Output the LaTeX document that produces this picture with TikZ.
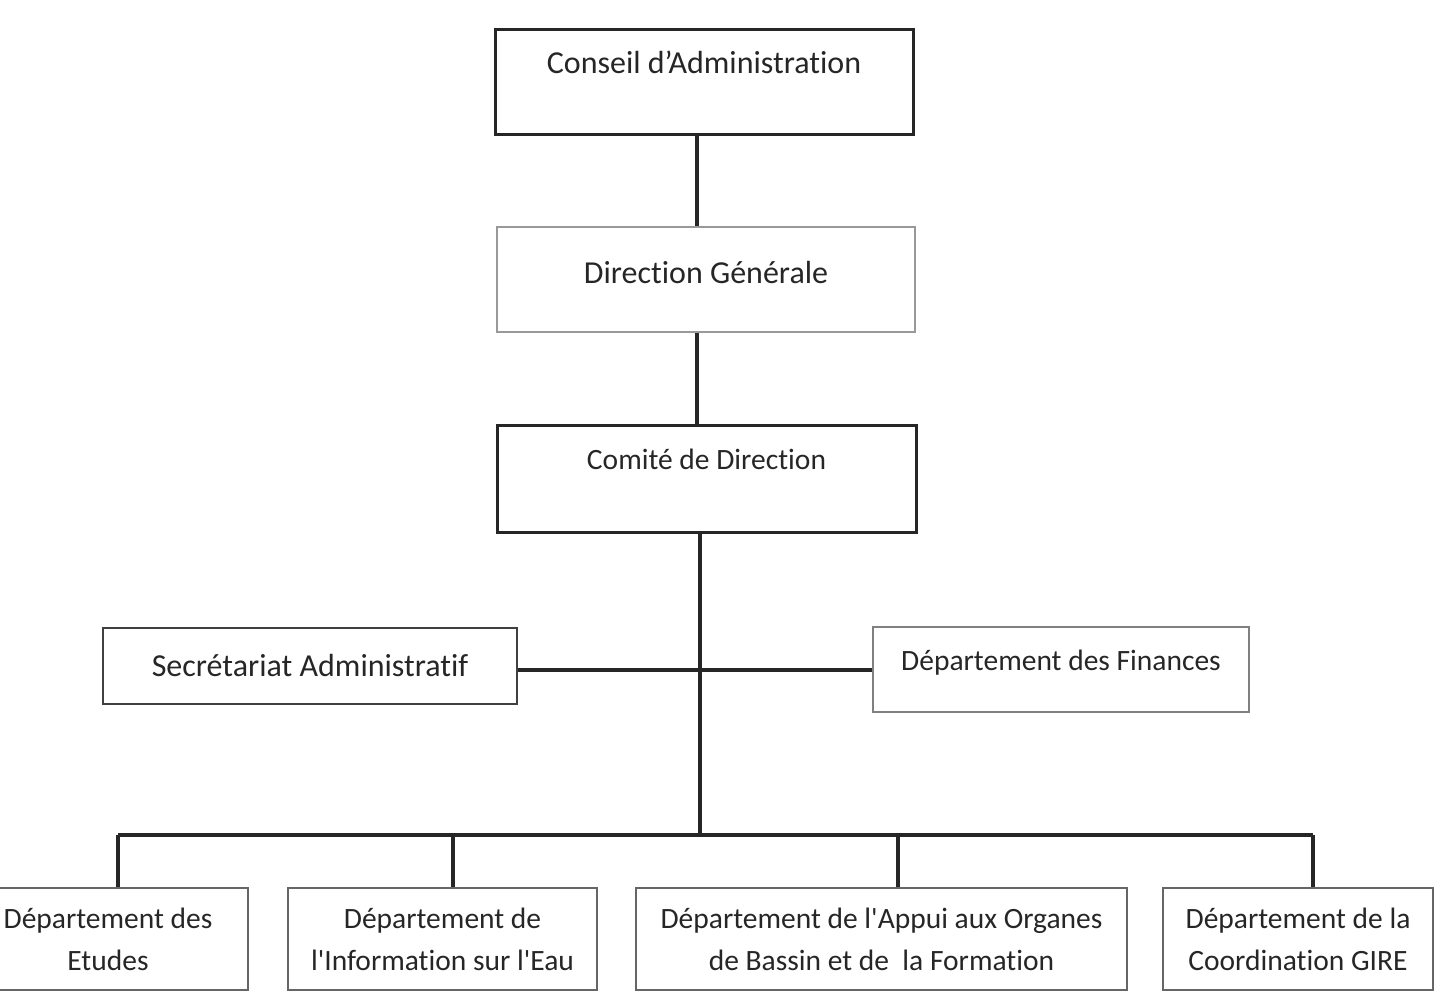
\documentclass[tikz,border=0pt]{standalone}
\usepackage{fontspec}
\setmainfont{Carlito}[Ligatures=NoCommon]
\begin{document}
\begin{tikzpicture}[x=1pt,y=-1pt]
            \tikzstyle{every node}+=[inner sep=0pt]
            \tikzstyle{unit}=[draw=black!60, line width=2pt, align=center, text=black!85, font=\fontsize{29.5}{42}\selectfont]
            \tikzstyle{big}=[font=\fontsize{32}{42}\selectfont]
            \tikzstyle{head}=[unit, draw=black!85, line width=3pt]
            \tikzstyle{link}=[draw=black!85, line width=4pt]
            \useasboundingbox (0,0) rectangle (1445,995);
            \clip (0,0) rectangle (1445,995);
            % top of the chart
            \node [head, big, minimum width=418pt, text height=44pt, text depth=61pt, anchor=base] (ca) at (704,74) {Conseil d’Administration};
            \node [unit, big, draw=black!40, minimum width=418pt, text height=56pt, text depth=49pt, anchor=base] (dg) at (706,283) {Direction Générale};
            \node [head, minimum width=419pt, text height=44pt, text depth=63pt, anchor=base] (cd) at (706.5,469) {Comité de Direction};
            % staff units
            \node [unit, big, draw=black!75, line width=2.5pt, minimum width=414pt, minimum height=76pt] (sa) at (310,666) {Secrétariat Administratif};
            \node [unit, draw=black!50, minimum width=376pt, text height=43pt, text depth=42pt, anchor=base] (fin) at (1061,670) {Département des Finances};
            % departments
            \node [unit, minimum width=280pt, minimum height=102pt] (etu) at (108,939) {Département des\\Etudes};
            \node [unit, minimum width=309pt, minimum height=102pt] (info) at (442.5,939) {Département de\\l\textquotesingle Information sur l\textquotesingle Eau};
            \node [unit, minimum width=491pt, minimum height=102pt] (appui) at (881.5,939) {Département de l\textquotesingle Appui aux Organes\\de Bassin et de\ \ la Formation};
            \node [unit, minimum width=270pt, minimum height=102pt] (gire) at (1298,939) {Département de la\\Coordination GIRE};
            \coordinate (bus) at (700,835);
            \draw [link] ([xshift=-7pt]ca.south) -- ([xshift=-9pt]dg.north);
            \draw [link] ([xshift=-9pt]dg.south) -- ([xshift=-9.5pt]cd.north);
            \draw [link] ([xshift=-6.5pt]cd.south) -- (bus);
            \draw [link] (sa.east |- 0,670) -- (fin.west |- 0,670);
            \draw [link] ([xshift=10pt]etu.north |- bus) -- ([xshift=15pt]gire.north |- bus);
            \foreach \n/\dx in {etu/10,info/10.5,appui/16.5,gire/15}
              \draw [link] ([xshift=\dx pt]\n.north |- bus) -- ([xshift=\dx pt]\n.north);
          \end{tikzpicture}
\end{document}
